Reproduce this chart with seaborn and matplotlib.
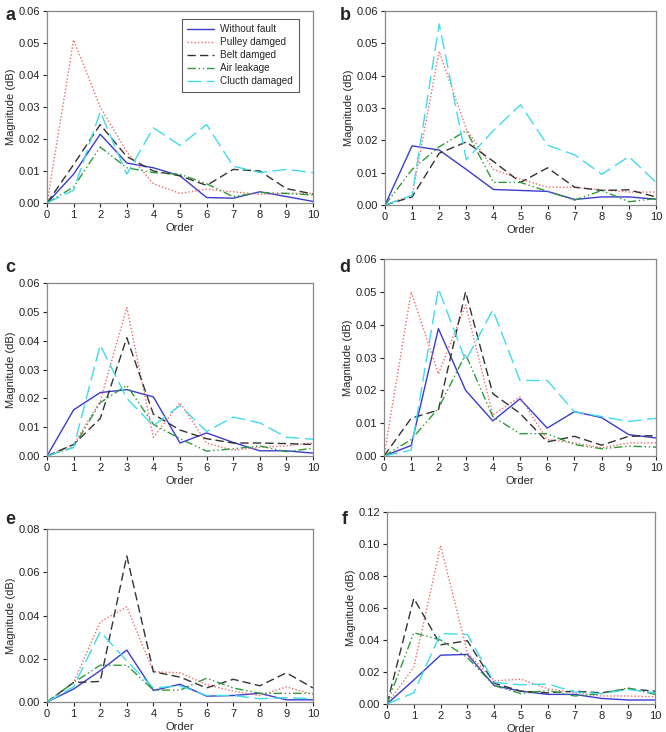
import matplotlib
matplotlib.use("Agg")
import matplotlib.pyplot as plt
import pandas as pd
import seaborn as sns

orders = list(range(11))
series_names = ["Without fault", "Pulley damged", "Belt damged", "Air leakage", "Clucth damaged"]

# panel a
a_without = [0, 0.009, 0.0215, 0.0125, 0.011, 0.0085, 0.0017, 0.0015, 0.0035, 0.002, 0.0005]
a_pulley = [0, 0.051, 0.030, 0.016, 0.006, 0.003, 0.0043, 0.0035, 0.0027, 0.003, 0.003]
a_belt = [0, 0.012, 0.0245, 0.0145, 0.010, 0.0085, 0.0055, 0.0105, 0.010, 0.0045, 0.0028]
a_air = [0, 0.005, 0.0175, 0.011, 0.0095, 0.009, 0.006, 0.002, 0.0033, 0.003, 0.0025]
a_clutch = [0, 0.004, 0.0285, 0.009, 0.0235, 0.018, 0.0245, 0.0115, 0.0095, 0.0105, 0.0095]

# panel b
b_without = [0, 0.0183, 0.017, 0.011, 0.0048, 0.0045, 0.0042, 0.0017, 0.0025, 0.0025, 0.0018]
b_pulley = [0, 0.003, 0.0475, 0.0235, 0.011, 0.008, 0.0055, 0.0055, 0.0047, 0.004, 0.004]
b_belt = [0, 0.0025, 0.016, 0.0195, 0.0135, 0.007, 0.0115, 0.0055, 0.0045, 0.0047, 0.0025]
b_air = [0, 0.011, 0.018, 0.023, 0.007, 0.007, 0.0042, 0.0015, 0.0045, 0.001, 0.002]
b_clutch = [0, 0.003, 0.056, 0.014, 0.023, 0.031, 0.0185, 0.0155, 0.0095, 0.015, 0.007]

# panel c
c_without = [0, 0.016, 0.022, 0.023, 0.0205, 0.0045, 0.008, 0.0047, 0.0018, 0.0018, 0.001]
c_pulley = [0, 0.004, 0.019, 0.0515, 0.0065, 0.0185, 0.0045, 0.002, 0.003, 0.0035, 0.0045]
c_belt = [0, 0.004, 0.013, 0.041, 0.0145, 0.009, 0.006, 0.0045, 0.0045, 0.0043, 0.004]
c_air = [0, 0.003, 0.0185, 0.0245, 0.011, 0.006, 0.0017, 0.0025, 0.0035, 0.0015, 0.0027]
c_clutch = [0, 0.003, 0.0385, 0.020, 0.0105, 0.0175, 0.0085, 0.0135, 0.0115, 0.0065, 0.0058]

# panel d
d_without = [0, 0.0032, 0.0388, 0.020, 0.0107, 0.0174, 0.0085, 0.0135, 0.0117, 0.0065, 0.0055]
d_pulley = [0, 0.050, 0.025, 0.046, 0.0125, 0.018, 0.005, 0.004, 0.0025, 0.004, 0.004]
d_belt = [0, 0.0115, 0.014, 0.050, 0.019, 0.013, 0.0043, 0.006, 0.0033, 0.006, 0.0062]
d_air = [0, 0.005, 0.0145, 0.031, 0.012, 0.0068, 0.0068, 0.0035, 0.0022, 0.003, 0.0027]
d_clutch = [0, 0.0018, 0.051, 0.029, 0.0445, 0.023, 0.023, 0.0135, 0.012, 0.0105, 0.0115]

# panel e
e_without = [0, 0.006, 0.0145, 0.024, 0.0053, 0.0082, 0.0027, 0.003, 0.004, 0.001, 0.001]
e_pulley = [0, 0.009, 0.037, 0.044, 0.014, 0.0135, 0.008, 0.005, 0.003, 0.007, 0.0035]
e_belt = [0, 0.009, 0.0095, 0.0675, 0.014, 0.0115, 0.0065, 0.0105, 0.0075, 0.0135, 0.0065]
e_air = [0, 0.009, 0.017, 0.017, 0.0055, 0.0055, 0.011, 0.0065, 0.004, 0.004, 0.004]
e_clutch = [0, 0.007, 0.0325, 0.019, 0.0065, 0.0075, 0.003, 0.003, 0.0015, 0.002, 0.0015]

# panel f
f_without = [0, 0.015, 0.0305, 0.031, 0.0115, 0.008, 0.006, 0.006, 0.0035, 0.0025, 0.0025]
f_pulley = [0, 0.023, 0.099, 0.032, 0.0145, 0.0155, 0.0095, 0.007, 0.005, 0.005, 0.0045]
f_belt = [0, 0.066, 0.037, 0.0395, 0.013, 0.008, 0.007, 0.008, 0.007, 0.0095, 0.008]
f_air = [0, 0.0445, 0.040, 0.029, 0.0115, 0.0065, 0.0085, 0.005, 0.0065, 0.010, 0.006]
f_clutch = [0, 0.007, 0.044, 0.0435, 0.0135, 0.012, 0.0125, 0.0075, 0.0065, 0.009, 0.007]

panels = {
    "a": [a_without, a_pulley, a_belt, a_air, a_clutch],
    "b": [b_without, b_pulley, b_belt, b_air, b_clutch],
    "c": [c_without, c_pulley, c_belt, c_air, c_clutch],
    "d": [d_without, d_pulley, d_belt, d_air, d_clutch],
    "e": [e_without, e_pulley, e_belt, e_air, e_clutch],
    "f": [f_without, f_pulley, f_belt, f_air, f_clutch],
}
y_max = {"a": 0.06, "b": 0.06, "c": 0.06, "d": 0.06, "e": 0.08, "f": 0.12}
y_step = {"a": 0.01, "b": 0.01, "c": 0.01, "d": 0.01, "e": 0.02, "f": 0.02}

colors = {
    "Without fault": "#3b3bd0",
    "Pulley damged": "#f06a6a",
    "Belt damged": "#333333",
    "Air leakage": "#2e9a3a",
    "Clucth damaged": "#3fdcec",
}
dashes = {
    "Without fault": "",
    "Pulley damged": (1, 1.5),
    "Belt damged": (6, 3),
    "Air leakage": (6, 2, 1, 2, 1, 2),
    "Clucth damaged": (10, 4),
}

sns.set_style("white")
plt.rcParams["font.family"] = ["Liberation Sans", "DejaVu Sans"]
plt.rcParams["font.size"] = 8

W, H = 666, 732
# axes boxes in pixels: left, top, right, bottom
boxes = {
    "a": (47, 11, 313, 203),
    "b": (385, 11, 656, 205),
    "c": (47, 283, 313, 456),
    "d": (384, 259, 656, 456),
    "e": (47, 529, 313, 702),
    "f": (387, 512, 655, 704),
}
# panel letter positions in pixels
letter_pos = {
    "a": (10, 15), "b": (345, 16),
    "c": (10, 268), "d": (345, 268),
    "e": (10, 520), "f": (345, 519),
}

fig = plt.figure(figsize=(W / 100, H / 100), dpi=100)

for key, values in panels.items():
    l, t, r, b = boxes[key]
    ax = fig.add_axes([l / W, 1 - b / H, (r - l) / W, (b - t) / H])
    df = pd.DataFrame({
        "Order": orders * len(series_names),
        "Magnitude": [v for vals in values for v in vals],
        "Series": [n for n in series_names for _ in orders],
    })
    sns.lineplot(data=df, x="Order", y="Magnitude", hue="Series", style="Series",
                 palette=colors, dashes=dashes, hue_order=series_names,
                 style_order=series_names, linewidth=1.0, ax=ax,
                 legend=(key == "a"))
    ax.set_xlim(0, 10)
    ax.set_ylim(0, y_max[key])
    ax.set_xticks(orders)
    n = int(round(y_max[key] / y_step[key]))
    ax.set_yticks([i * y_step[key] for i in range(n + 1)])
    ax.yaxis.set_major_formatter(matplotlib.ticker.FormatStrFormatter("%.2f"))
    ax.set_xlabel("Order", fontsize=8, labelpad=2)
    ax.set_ylabel("Magnitude (dB)", fontsize=8, labelpad=2)
    ax.tick_params(axis="both", which="major", direction="out", length=3,
                   width=0.8, labelsize=8, pad=2, colors="#222222",
                   bottom=True, left=True)
    for s in ax.spines.values():
        s.set_color("#888888")
        s.set_linewidth(0.9)
    lx, ly = letter_pos[key]
    fig.text(lx / W, 1 - ly / H, key, fontsize=13, fontweight="bold",
             ha="center", va="center")
    if key == "a":
        leg = ax.legend(loc="upper right", bbox_to_anchor=(0.965, 0.985),
                        frameon=True, fancybox=False, fontsize=7.2,
                        handlelength=2.7, handletextpad=0.6, borderpad=0.55,
                        labelspacing=0.3, title=None)
        leg.get_frame().set_edgecolor("#333333")
        leg.get_frame().set_linewidth(0.8)

plt.savefig("out.png", dpi=100)
